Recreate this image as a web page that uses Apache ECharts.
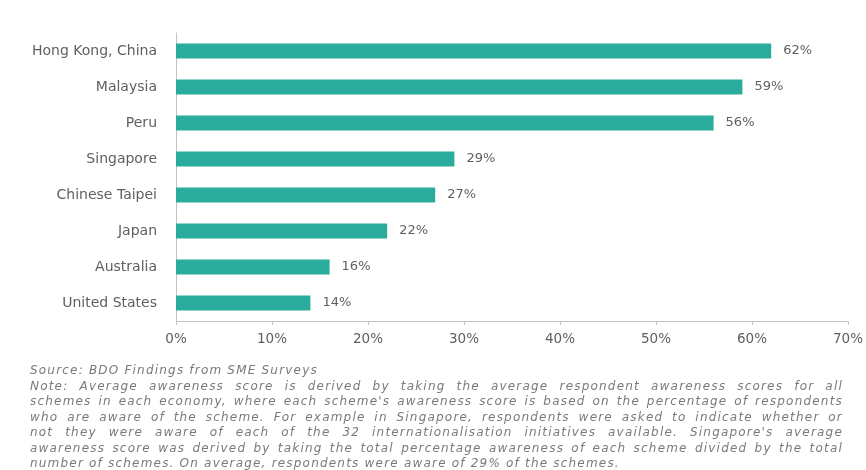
<!DOCTYPE html>
<html>
<head>
<meta charset="utf-8">
<script src="https://cdn.jsdelivr.net/npm/echarts@6/dist/echarts.min.js"></script>
<style>
  html, body { margin: 0; padding: 0; background: #fff; }
  #wrap { position: relative; width: 866px; height: 470px; overflow: hidden; }
  #chart { position: absolute; left: 0; top: 0; width: 866px; height: 470px; }
  #notes {
    position: absolute; left: 30px; top: 363px; width: 813px;
    font-family: "DejaVu Sans", Verdana, sans-serif; font-style: italic;
    font-size: 12px; line-height: 15.5px; color: #7a7a7a; letter-spacing: 1.2px;
  }
  #notes p { margin: 0; height: 15.5px; text-align: justify; text-align-last: justify; }
  #notes p.last { text-align: left; text-align-last: left; }
</style>
</head>
<body>
<div id="wrap">
  <div id="chart"></div>
  <div id="notes"></div>
</div>
<script>
// Average awareness score of SME support schemes, by economy (%)
const economies = ['Hong Kong, China', 'Malaysia', 'Peru', 'Singapore', 'Chinese Taipei', 'Japan', 'Australia', 'United States'];
const awareness = [62, 59, 56, 29, 27, 22, 16, 14];
const axisMax = 70;
const axisStep = 10;

const sourceText = 'Source: BDO Findings from SME Surveys';
const noteLines = [
  'Note: Average awareness score is derived by taking the average respondent awareness scores for all',
  "schemes in each economy, where each scheme's awareness score is based on the percentage of respondents",
  'who are aware of the scheme. For example in Singapore, respondents were asked to indicate whether or',
  "not they were aware of each of the 32 internationalisation initiatives available. Singapore's average",
  'awareness score was derived by taking the total percentage awareness of each scheme divided by the total',
  'number of schemes. On average, respondents were aware of 29% of the schemes.'
];

// Footnote block: source line, then the justified note lines
const notes = document.getElementById('notes');
[sourceText].concat(noteLines).forEach(function (line, i, all) {
  const p = document.createElement('p');
  p.textContent = line;
  if (i === 0 || i === all.length - 1) p.className = 'last';
  notes.appendChild(p);
});

const textColor = '#5f5f5f';
const font = '"DejaVu Sans", Verdana, sans-serif';

const chart = echarts.init(document.getElementById('chart'), null, { renderer: 'canvas' });
chart.setOption({
  animation: false,
  grid: { left: 176, right: 14, top: 33, bottom: 149, containLabel: false },
  xAxis: {
    type: 'value',
    min: 0,
    max: axisMax,
    interval: axisStep,
    axisLine: { show: true, lineStyle: { color: '#c4c4c4', width: 1 } },
    axisTick: { show: true, length: 4, inside: false, lineStyle: { color: '#c4c4c4' } },
    splitLine: { show: false },
    axisLabel: {
      formatter: '{value}%',
      color: textColor,
      fontFamily: font,
      fontSize: 13.5,
      margin: 11
    }
  },
  yAxis: {
    type: 'category',
    data: economies,
    inverse: true,
    axisLine: { show: true, lineStyle: { color: '#c4c4c4', width: 1 } },
    axisTick: { show: false },
    axisLabel: {
      color: textColor,
      fontFamily: font,
      fontSize: 14,
      margin: 19
    }
  },
  series: [{
    type: 'bar',
    data: awareness,
    barWidth: 15,
    itemStyle: { color: '#2aab9b' },
    label: {
      show: true,
      position: 'right',
      distance: 12,
      formatter: '{c}%',
      color: textColor,
      fontFamily: font,
      fontSize: 13
    }
  }]
});
</script>
</body>
</html>
